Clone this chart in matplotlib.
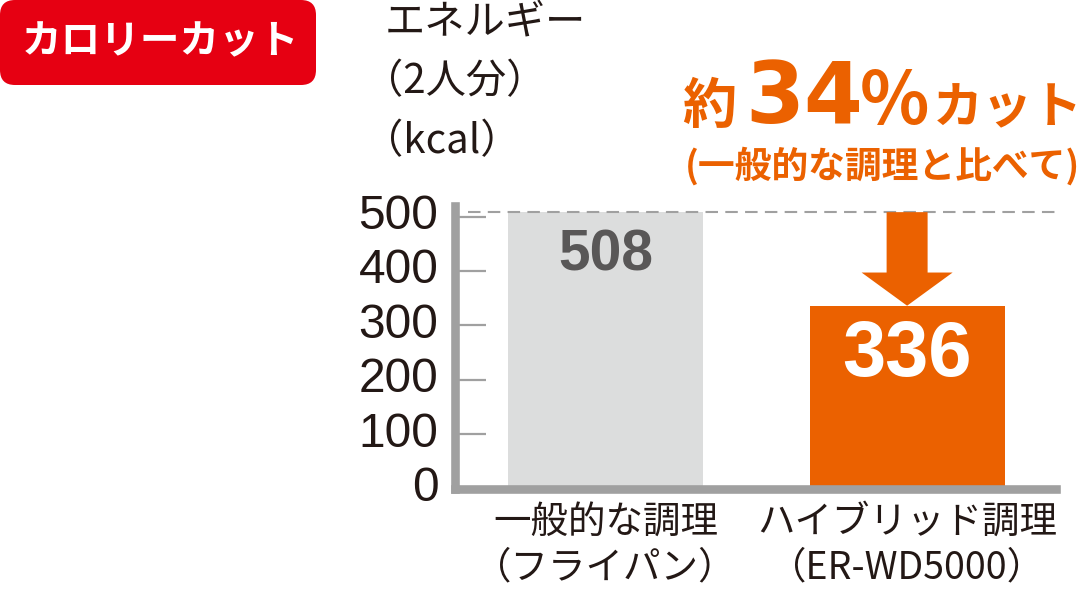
import matplotlib
matplotlib.use("Agg")
import matplotlib.pyplot as plt
from matplotlib.patches import FancyBboxPatch
from matplotlib.transforms import IdentityTransform, ScaledTranslation

plt.rcParams['font.family'] = ['Noto Sans CJK JP', 'DejaVu Sans']

# data
categories = ["一般的な調理\n（フライパン）", "ハイブリッド調理\n（ER-WD5000）"]
energy = [508, 336]
yticks = [0, 100, 200, 300, 400, 500]
ylabel_lines = ["エネルギー", "（2人分）", "（kcal）"]
badge = "カロリーカット"
cut_parts = ["約", "34", "%", "カット"]
cut_note = "(一般的な調理と比べて)"

ORANGE = "#eb6100"
GRAY_BAR = "#dcdddd"
AXIS_GRAY = "#a0a0a0"
TEXT = "#231815"
W, H = 1086, 600

fig = plt.figure(figsize=(W / 100, H / 100), dpi=100)

# axes placed in pixel terms: y=0 at 488.5px from top, 0.544 px per kcal
ax = fig.add_axes([455 / W, (H - 488.5) / H, 601 / W, 282.5 / H])
ax.set_xlim(-0.5, 1.494)
ax.set_ylim(0, 282.5 / 0.544)

ax.bar([0, 1], energy, width=0.647, color=[GRAY_BAR, ORANGE], zorder=1)

for s in ["top", "right"]:
    ax.spines[s].set_visible(False)
for s in ["left", "bottom"]:
    ax.spines[s].set_color(AXIS_GRAY)
    ax.spines[s].set_linewidth(6.2)

ax.set_yticks(yticks)
ax.set_yticklabels([str(v) for v in yticks], family="Liberation Sans",
                   fontsize=34.5, color=TEXT)
ax.tick_params(axis="y", direction="in", length=22, width=1.6,
               color=AXIS_GRAY, pad=12)
lift = ScaledTranslation(0, 5 / 100, fig.dpi_scale_trans)
for lab in ax.get_yticklabels():
    lab.set_transform(lab.get_transform() + lift)

ax.set_xticks([0, 1])
ax.set_xticklabels(categories, fontsize=27, color=TEXT, linespacing=1.25)
ax.tick_params(axis="x", length=0, pad=10)

# dashed reference line at the frying-pan value
ax.plot([-0.456, 1.494], [energy[0], energy[0]], color=AXIS_GRAY, lw=1.5,
        ls=(0, (6, 3.5)), clip_on=False, zorder=3)

# arrow down to the hybrid bar
ax.arrow(1, energy[0], 0, energy[1] - energy[0], width=0.136,
         head_width=0.302, head_length=61, length_includes_head=True,
         fc=ORANGE, ec="none", zorder=3)

# value labels
ax.text(0, 401, str(energy[0]), ha="center", va="baseline",
        family="Liberation Sans", weight="bold", fontsize=41, color="#595757")
ax.text(1, 206, str(energy[1]), ha="center", va="baseline",
        family="Liberation Sans", weight="bold", fontsize=56, color="white")


def px(x, y):
    return x / W, 1 - y / H


# y label, three lines
for i, line in enumerate(ylabel_lines):
    fig.text(*px(363 if line.startswith("（") else 385, 22 + 60 * i), line,
             ha="left", va="center", fontsize=29, color=TEXT)

# red badge
box = FancyBboxPatch((0, H - 85), 316, 85,
                     boxstyle="round,pad=0,rounding_size=15",
                     transform=IdentityTransform(), fc="#e60012", ec="none")
fig.patches.append(box)
fig.text(*px(160, 42), badge, ha="center", va="center", fontsize=28.5,
         weight="bold", color="white")

# headline
fig.text(*px(709, 123), cut_parts[0], ha="center", va="baseline",
         fontsize=39, weight="bold", color=ORANGE)
fig.text(*px(804, 123), cut_parts[1], ha="center", va="baseline",
         family="DejaVu Sans", fontsize=61, weight="bold", color=ORANGE)
fig.text(*px(894, 124), cut_parts[2], ha="center", va="baseline",
         fontsize=52, weight="bold", color=ORANGE)
fig.text(*px(1008, 123), cut_parts[3], ha="center", va="baseline",
         fontsize=36, weight="bold", color=ORANGE)
fig.text(*px(882, 166), cut_note, ha="center", va="center",
         fontsize=26.5, weight="bold", color=ORANGE)

fig.savefig("out.png", dpi=100)
